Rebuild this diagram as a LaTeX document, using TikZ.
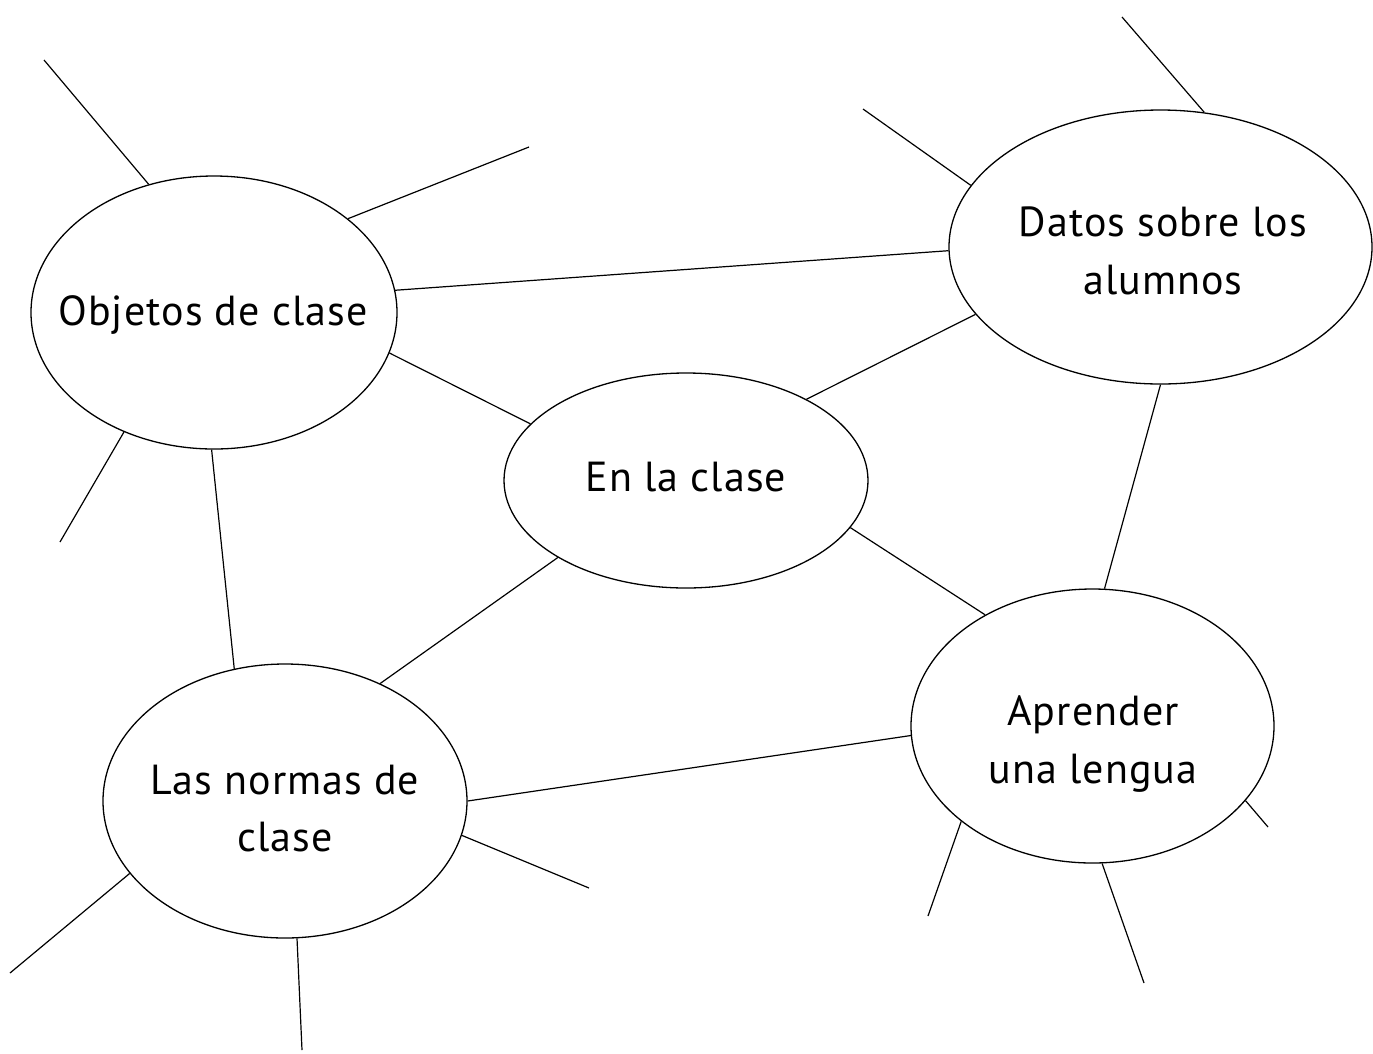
\documentclass[tikz,border=0pt]{standalone}
\usepackage{fontspec}
\setmainfont{PT Sans}[LetterSpace=2.5]
\usetikzlibrary{shapes.geometric}
\begin{document}
\begin{tikzpicture}[x=1pt,y=-1pt,
  bubble/.style={draw=black, line width=1.3pt, ellipse, inner sep=0pt, fill=none},
  lbl/.style={font=\fontsize{42}{57.5}\selectfont, align=center, inner sep=0pt, text=black},
  link/.style={draw=black, line width=1.2pt}]
\useasboundingbox (0,0) rectangle (1373,1053);
\fill[white] (0,0) rectangle (1373,1053);
% bubbles
\node[bubble, minimum width=366pt, minimum height=273pt] (O) at (214,312.5) {};
\node[bubble, minimum width=423pt, minimum height=274pt] (D) at (1160.5,247) {};
\node[bubble, minimum width=364pt, minimum height=215pt] (E) at (686,480.5) {};
\node[bubble, minimum width=364pt, minimum height=274pt] (N) at (285,801) {};
\node[bubble, minimum width=363pt, minimum height=274pt] (A) at (1092.5,726) {};
% labels
\node[lbl] (tO) at (213,314.5) {Objetos de clase};
\node[lbl] (tD) at (1163,251) {Datos sobre los\\alumnos};
\node[lbl] (tE) at (686,477) {En la clase};
\node[lbl] (tN) at (285,808.5) {Las normas de\\clase};
\node[lbl] (tA) at (1093,744) {Aprender\\una lengua};
% connectors between bubbles
\draw[link] (O.7.5) -- (D.-179.5);
\draw[link] (O.-13.3) -- (E.160.6);
\draw[link] (O.-91.2) -- (N.111);
\draw[link] (E.34.8) -- (D.-160.1);
\draw[link] (E.-16.3) -- (A.134.1);
\draw[link] (E.-149.9) -- (N.51.5);
\draw[link] (N.0.9) -- (A.-177.2);
\draw[link] (D.-90.2) -- (A.85.2);
% free spoke ends
\coordinate (o1) at (44,60);
\coordinate (o2) at (529,147);
\coordinate (o3) at (60,542);
\coordinate (d1) at (863,109);
\coordinate (d2) at (1122,17);
\coordinate (n1) at (10,973);
\coordinate (n2) at (302,1050);
\coordinate (n3) at (589,888);
\coordinate (a1) at (1268,827);
\coordinate (a2) at (928,916);
\coordinate (a3) at (1144,983);
% spokes
\draw[link] (O.117) -- (o1);
\draw[link] (O.35.9) -- (o2);
\draw[link] (O.-127.6) -- (o3);
\draw[link] (D.162.5) -- (d1);
\draw[link] (D.72.5) -- (d2);
\draw[link] (N.-155.9) -- (n1);
\draw[link] (N.-85) -- (n2);
\draw[link] (N.-11.8) -- (n3);
\draw[link] (A.-26.2) -- (a1);
\draw[link] (A.-144.8) -- (a2);
\draw[link] (A.-86.9) -- (a3);
\end{tikzpicture}
\end{document}
